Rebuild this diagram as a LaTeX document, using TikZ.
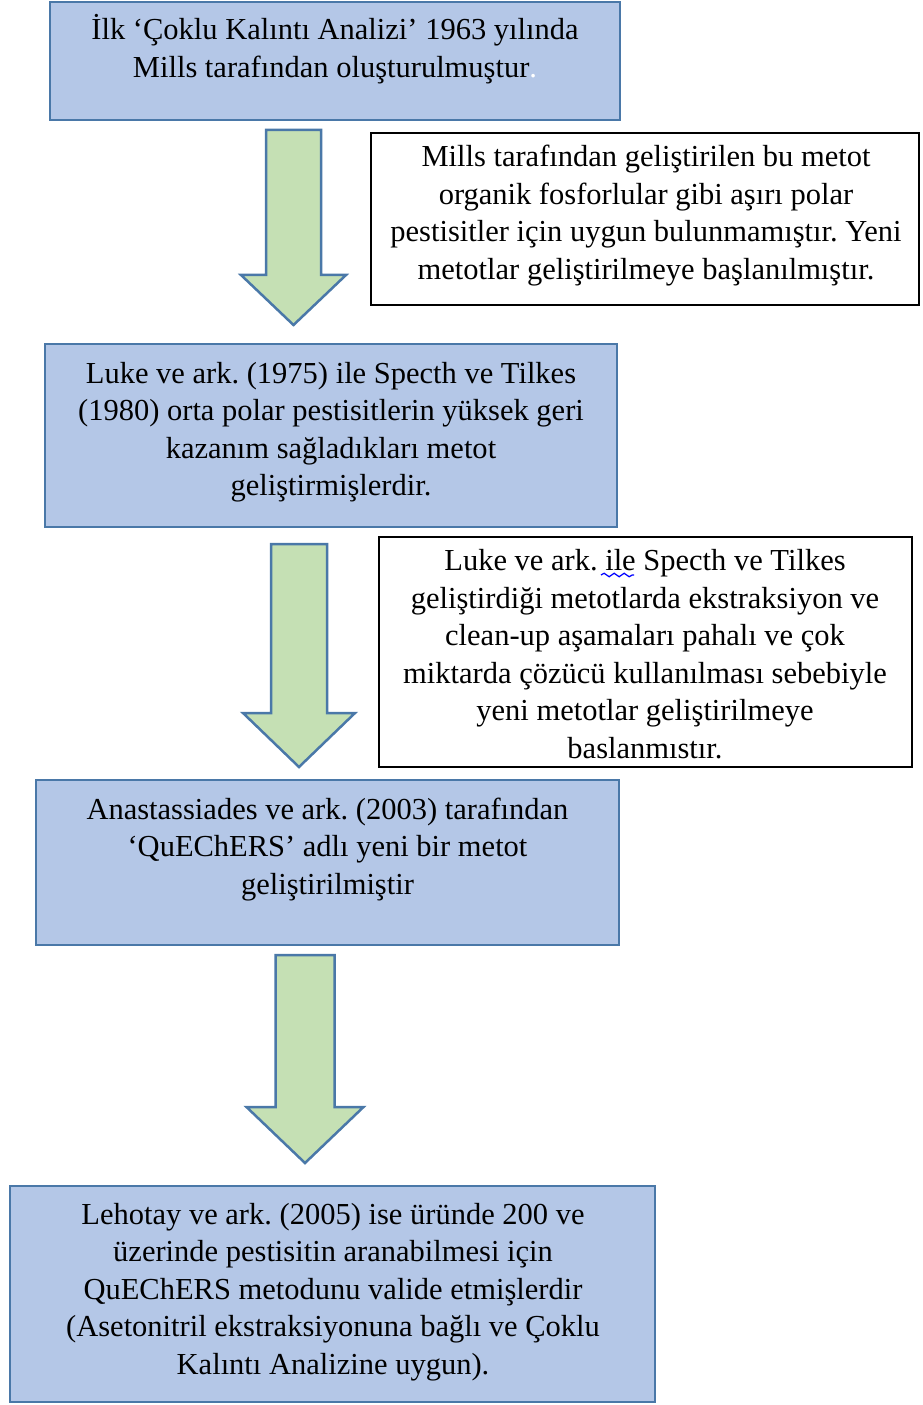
\documentclass[tikz,border=0pt]{standalone}
\usepackage{fontspec}
\setmainfont{Liberation Serif}
\usepackage{xcolor}
\usetikzlibrary{positioning,decorations.pathmorphing}
\definecolor{stagefill}{HTML}{B4C7E7}
\definecolor{stageline}{HTML}{4A78A8}
\definecolor{arrowfill}{HTML}{C5E0B4}
\frenchspacing

\begin{document}
\begin{tikzpicture}[x=0.4pt, y=-0.4pt,
  boxsize/.style 2 args={minimum width=#1*0.4pt, minimum height=#2*0.4pt, inner sep=0pt},
  stage/.style={draw=stageline, fill=stagefill, line width=1.1pt},
  note/.style={draw=black, fill=white, line width=1pt},
  txt/.style={align=center, inner sep=0pt, font=\fontsize{12.2}{15}\selectfont},
  blockarrow/.style={draw=stageline, fill=arrowfill, line width=1pt, line join=miter}]
\useasboundingbox (0,0) rectangle (922,1405);
% the stages on the left and the notes beside them
\node[stage, boxsize={570}{118}] (st1) at (335,61) {};
\node[note, boxsize={548}{172}] (nt1) at (645,219) {};
\node[stage, boxsize={572}{183}] (st2) at (331,435.5) {};
\node[note, boxsize={533}{230}] (nt2) at (645.5,652) {};
\node[stage, boxsize={583}{165}] (st3) at (327.5,862.5) {};
\node[stage, boxsize={645}{216}] (st4) at (332.5,1294) {};
% the texts, set from the top of each box
\node[txt] (st1txt) at (335,49) {İlk ‘Çoklu Kalıntı Analizi’ 1963 yılında\\Mills tarafından oluşturulmuştur{\color{white}.}};
\node[txt] (nt1txt) at (646,215.5) {Mills tarafından geliştirilen bu metot\\organik fosforlular gibi aşırı polar\\pestisitler için uygun bulunmamıştır. Yeni\\metotlar geliştirilmeye başlanılmıştır.};
\node[txt] (st2txt) at (331,432) {Luke ve ark. (1975) ile Specth ve Tilkes\\(1980) orta polar pestisitlerin yüksek geri\\kazanım sağladıkları metot\\geliştirmişlerdir.};
\node[txt] (nt2txt) at (645,654) {Luke ve ark. ile Specth ve Tilkes\\geliştirdiği metotlarda ekstraksiyon ve\\clean-up aşamaları pahalı ve çok\\miktarda çözücü kullanılması sebebiyle\\yeni metotlar geliştirilmeye\\baslanmıstır.};
\node[txt] (st3txt) at (327.5,849.5) {Anastassiades ve ark. (2003) tarafından\\‘QuEChERS’ adlı yeni bir metot\\geliştirilmiştir};
\node[txt] (st4txt) at (333,1292) {Lehotay ve ark. (2005) ise üründe 200 ve\\üzerinde pestisitin aranabilmesi için\\QuEChERS metodunu valide etmişlerdir\\(Asetonitril ekstraksiyonuna bağlı ve Çoklu\\Kalıntı Analizine uygun).};
% spell-check wave under "ile"
\draw[blue, line width=0.5pt, decorate, decoration={snake, segment length=4pt, amplitude=0.7pt}] (601,575) -- (634,575);
% block arrows between the stages
\foreach \cx/\ytop/\yneck/\ytip/\sw/\hw in {293.5/130/275/325/55/105, 299/544/713/767/56/112, 305/955/1107/1163/59/117}
  \draw[blockarrow] ({\cx-\sw/2},\ytop) -- ({\cx+\sw/2},\ytop) -- ({\cx+\sw/2},\yneck) -- ({\cx+\hw/2},\yneck)
    -- (\cx,\ytip) -- ({\cx-\hw/2},\yneck) -- ({\cx-\sw/2},\yneck) -- cycle;
\end{tikzpicture}
\end{document}
